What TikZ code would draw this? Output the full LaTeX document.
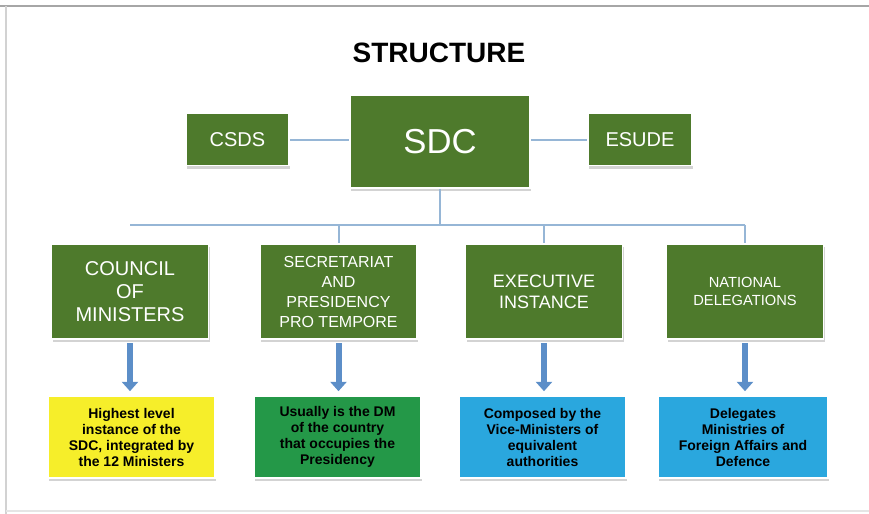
\documentclass[tikz,border=0pt]{standalone}
\usepackage[dvipsnames,svgnames]{xcolor}
\usepackage{fontspec}
\setmainfont{Liberation Sans}
\usetikzlibrary{arrows.meta,shadows}

\definecolor{boxgreen}{RGB}{78,122,44}
\definecolor{notegreen}{RGB}{36,152,72}
\definecolor{noteyellow}{RGB}{246,238,42}
\definecolor{noteblue}{RGB}{42,167,222}
\definecolor{arrowblue}{RGB}{92,142,200}
\definecolor{linkblue}{RGB}{150,182,214}

\begin{document}
\begin{tikzpicture}[x=0.75pt,y=0.75pt,yscale=-1,xscale=1,
  box/.style={fill=boxgreen,draw=white,line width=1.2pt,text=white,inner sep=0pt,align=center,
    drop shadow={shadow xshift=1pt,shadow yshift=-2.5pt,opacity=0.35}},
  rowbox/.style={box,minimum width=117.75pt,minimum height=71.25pt},
  note/.style={draw=white,line width=1.2pt,text=black,inner sep=0pt,align=center,
    minimum width=125.25pt,minimum height=61.5pt,font=\fontsize{10.5}{12}\selectfont\bfseries,
    drop shadow={shadow xshift=1pt,shadow yshift=-2.5pt,opacity=0.35}},
  link/.style={draw=linkblue,line width=1.5pt},
  down/.style={draw=arrowblue,line width=4.5pt,-{Triangle[length=7pt,width=12pt]},
    shorten <=2.5pt,shorten >=3pt}
]
\useasboundingbox (0,0) rectangle (869,514);

%Frame
\draw [gray!70,line width=1.2pt] (0,6) -- (869,6) ;
\draw [gray!35,line width=1pt] (6,6) -- (6,514) ;
\draw [gray!20,line width=1pt] (6,511) -- (869,511) ;

% Text Node
\draw (439,53) node (title) [font=\fontsize{21}{25}\selectfont\bfseries] {STRUCTURE};

%Top row
\draw (440,141.5) node (sdc) [box,minimum width=135pt,minimum height=69.75pt]
  [font=\fontsize{26}{30}\selectfont] {SDC};
\draw (237.5,139.5) node (csds) [box,minimum width=77.25pt,minimum height=39pt]
  [font=\fontsize{15}{18}\selectfont] {CSDS};
\draw (640,139.5) node (esude) [box,minimum width=78pt,minimum height=39pt]
  [font=\fontsize{15}{18}\selectfont] {ESUDE};

\draw [link] (csds.east) -- (csds.east -| sdc.west) ;
\draw [link] (esude.west -| sdc.east) -- (esude.west) ;

%Second row
\draw (130,291.5) node (council) [rowbox] [font=\fontsize{15}{17}\selectfont]
  {COUNCIL\\OF\\MINISTERS};
\draw (338.5,291.5) node (secretariat) [rowbox] [font=\fontsize{12}{15}\selectfont]
  {SECRETARIAT\\AND\\PRESIDENCY\\PRO TEMPORE};
\draw (544,291.5) node (executive) [rowbox] [font=\fontsize{13.5}{16}\selectfont]
  {EXECUTIVE\\INSTANCE};
\draw (745,291.5) node (national) [rowbox] [font=\fontsize{11}{13.5}\selectfont]
  {NATIONAL\\DELEGATIONS};

%Bus
\draw [link] (sdc.south) -- ++(0,36) coordinate (bus) ;
\draw [link] (council.north |- bus) -- (national.north |- bus) ;
\draw [link] (secretariat.north |- bus) -- (secretariat.north) ;
\draw [link] (executive.north |- bus) -- (executive.north) ;
\draw [link] (national.north |- bus) -- (national.north) ;

%Notes
\draw (131.5,437) node (highest) [note,fill=noteyellow]
  {Highest level\\instance of the\\SDC, integrated by\\the 12 Ministers};
\draw (337.5,437) node (usually) [note,fill=notegreen]
  {Usually is the DM\\of the country\\that occupies the\\Presidency};
\draw (542.5,437) node (composed) [note,fill=noteblue]
  {Composed by the\\Vice-Ministers of\\equivalent\\authorities};
\draw (743,437) node (delegates) [note,fill=noteblue,minimum width=127.5pt]
  {Delegates\\Ministries of\\Foreign Affairs and\\Defence};

\draw [down] (council.south) -- (council.south |- highest.north) ;
\draw [down] (secretariat.south) -- (secretariat.south |- usually.north) ;
\draw [down] (executive.south) -- (executive.south |- composed.north) ;
\draw [down] (national.south) -- (national.south |- delegates.north) ;
\end{tikzpicture}
\end{document}
